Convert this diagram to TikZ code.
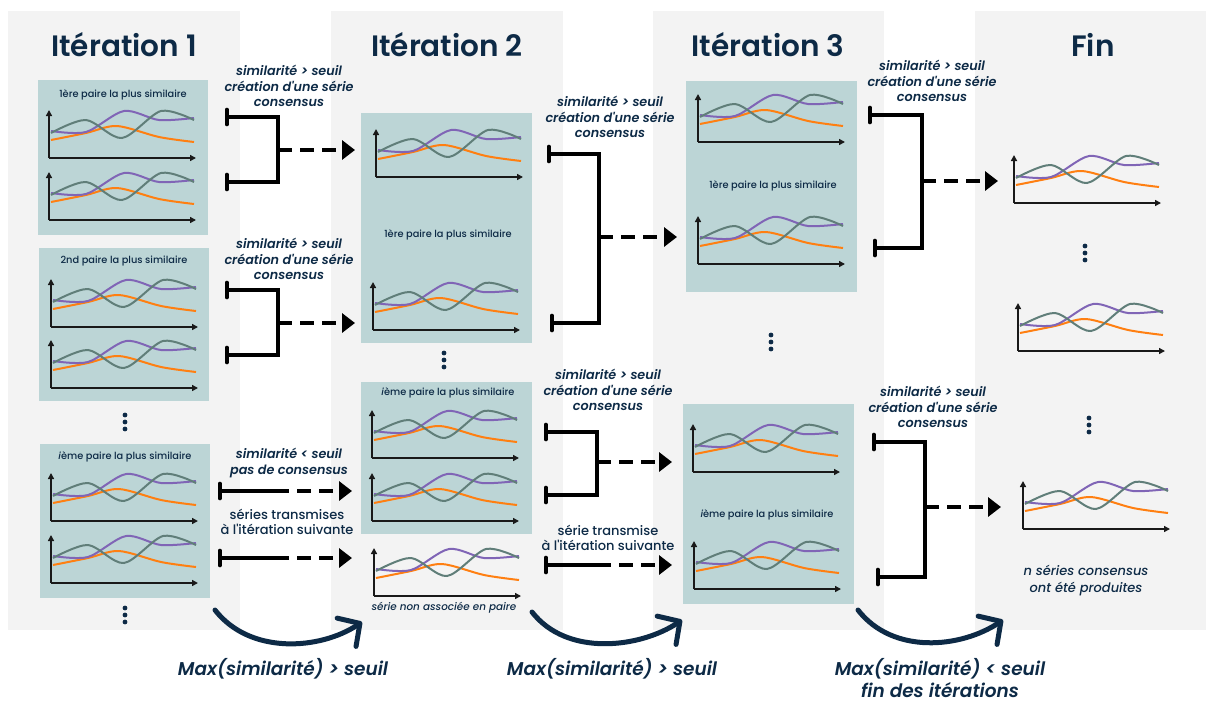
\documentclass[tikz,border=0pt]{standalone}
\usepackage{fontspec}
\setmainfont{Poppins}
\newfontfamily\semifont{Poppins SemiBold}[ItalicFont={Poppins SemiBold Italic}]
\newfontfamily\medfont{Poppins Medium}[ItalicFont={Poppins Medium Italic}]
\usetikzlibrary{arrows.meta}

\definecolor{fond}{RGB}{243,243,243}
\definecolor{panneau}{RGB}{188,213,214}
\definecolor{marine}{RGB}{13,42,70}
\definecolor{courbeA}{RGB}{96,126,121}
\definecolor{courbeB}{RGB}{128,101,182}
\definecolor{courbeC}{RGB}{255,127,17}

\tikzset{
  axe/.style={line width=1.8pt, black!90, -{Triangle[length=6pt,width=6pt]}},
  courbe/.style={line width=2pt},
  serie/.pic={
    \draw[axe] (0,0) -- (0,-48);
    \draw[axe] (0,0) -- (147,0);
    \draw[courbe, courbeC] plot[smooth] coordinates {(2,-18) (37,-25) (68,-32) (110,-21) (145,-16)};
    \draw[courbe, courbeB] plot[smooth] coordinates {(2,-27) (37,-26) (75,-47) (110,-38) (145,-40)};
    \draw[courbe, courbeA] plot[smooth] coordinates {(2,-25) (37,-38) (73,-20) (112,-47) (145,-38)};
  },
  points/.pic={\fill[marine] (0,-7) circle (2.4pt) (0,0) circle (2.4pt) (0,7) circle (2.4pt);},
  titre/.style={text=marine, font=\semifont\fontsize{29.5}{32}\selectfont},
  etiq/.style={text=marine, font=\medfont\fontsize{9.8}{11}\selectfont},
  cond/.style={text=marine, align=center, font=\semifont\itshape\fontsize{12.8}{15.5}\selectfont},
  trans/.style={text=marine, align=center, font=\medfont\fontsize{13}{15.5}\selectfont},
  maxi/.style={text=marine, align=center, inner sep=1pt, font=\semifont\itshape\fontsize{18.5}{22}\selectfont},
  crochet/.style={line width=3.6pt, {Bar[width=15pt,round]}-{Bar[width=15pt,round]}},
  trait/.style={line width=3.6pt, {Bar[width=15pt,round]}-},
  flux/.style={line width=3.6pt, dash pattern=on 14pt off 8pt, -{Triangle[length=13pt,width=19pt]}},
  boucle/.style={line width=5pt, marine, line cap=round, -{Straight Barb[length=16pt,width=34pt,round]}},
}

\begin{document}
\begin{tikzpicture}[x=1pt, y=-1pt]
		\useasboundingbox (0,0) rectangle (1206,702);
		
		% Colonnes
		\fill[fond] (8,11) rectangle (240,630);
		\fill[fond] (331,11) rectangle (563,630);
		\fill[fond] (653,11) rectangle (884,630);
		\fill[fond] (975,11) rectangle (1206,630);
		
		% Titres
		\node[titre] (t1) at (124,45) {Itération 1};
		\node[titre] (t2) at (447,45) {Itération 2};
		\node[titre] (t3) at (768,45) {Itération 3};
		\node[titre] (t4) at (1093,45) {Fin};
		
		% Panneaux des paires
		\fill[panneau] (38,80) rectangle (208,235); % 1ère paire
		\fill[panneau] (39,248) rectangle (209,401); % 2nd paire
		\fill[panneau] (40,444) rectangle (210,598); % ième paire
		\fill[panneau] (361,113) rectangle (532,343);
		\fill[panneau] (361,382) rectangle (532,534);
		\fill[panneau] (686,81) rectangle (857,292);
		\fill[panneau] (683,404) rectangle (854,604);
		
		% Séries
		\foreach \x/\y in {49/158, 49/220, 51/327, 51/388, 51/521, 51/583,
		    376/177, 373/330, 372/458, 372/521, 374/596,
		    698/142, 698/264, 693/472, 694/589,
		    1014/203, 1018/351, 1023/529}
		  \pic at (\x,\y) {serie};
		
		% Points de suspension
		\foreach \x/\y in {125/422, 125/615, 444/360, 771/342, 1085/253, 1089/425}
		  \pic at (\x,\y) {points};
		
		% Etiquettes des panneaux
		\node[etiq] (e11) at (123,95) {1ère paire la plus similaire};
		\node[etiq] (e12) at (124,261) {2nd paire la plus similaire};
		\node[etiq] (e13) at (125,457) {{\itshape i}ème paire la plus similaire};
		\node[etiq] (e21) at (448,235) {1ère paire la plus similaire};
		\node[etiq] (e22) at (448,393) {{\itshape i}ème paire la plus similaire};
		\node[etiq, font=\medfont\itshape\fontsize{10.4}{11}\selectfont] (e23) at (444,608) {série non associée en paire};
		\node[cond, font=\medfont\itshape\fontsize{13}{17}\selectfont] (e41) at (1086,581) {n séries consensus\\ont été produites};
		\node[etiq] (e31) at (773,186) {1ère paire la plus similaire};
		\node[etiq] (e32) at (767,515) {{\itshape i}ème paire la plus similaire};
		
		% Conditions
		\node[cond] (c1) at (289,86) {similarité > seuil\\création d'une série\\consensus};
		\node[cond] (c2) at (289,259) {similarité > seuil\\création d'une série\\consensus};
		\node[cond] (c3) at (289,463) {similarité < seuil\\pas de consensus};
		\node[trans] (c4) at (287,522) {séries transmises\\à l'itération suivante};
		\node[cond] (c5) at (610,117) {similarité > seuil\\création d'une série\\consensus};
		\node[cond] (c6) at (608,390) {similarité > seuil\\création d'une série\\consensus};
		\node[trans] (c7) at (608,538) {série transmise\\à l'itération suivante};
		\node[cond] (c8) at (932,81) {similarité > seuil\\création d'une série\\consensus};
		\node[cond] (c9) at (933,407) {similarité > seuil\\création d'une série\\consensus};
		
		% Crochets Itération 1 -> 2
		\coordinate (a1) at (225,117); \coordinate (a2) at (225,182);
		\coordinate (av) at (278,150); \coordinate (ab) at (355,150);
		\draw[crochet] (a1) -| (av) |- (a2);
		\draw[flux] (av) -- (ab);
		\coordinate (b1) at (225,290); \coordinate (b2) at (225,355);
		\coordinate (bv) at (278,323); \coordinate (bb) at (355,323);
		\draw[crochet] (b1) -| (bv) |- (b2);
		\draw[flux] (bv) -- (bb);
		\coordinate (d1) at (218,491); \coordinate (dm) at (275,491); \coordinate (db) at (352,491);
		\draw[trait] (d1) -- (dm);
		\draw[flux] (dm) -- (db);
		\coordinate (f1) at (218,558); \coordinate (fm) at (275,558); \coordinate (fb) at (352,558);
		\draw[trait] (f1) -- (fm);
		\draw[flux] (fm) -- (fb);
		
		% Crochets Itération 2 -> 3
		\coordinate (g1) at (547,154); \coordinate (g2) at (550,323);
		\coordinate (gv) at (599,237); \coordinate (gb) at (677,237);
		\draw[crochet] (g1) -| (gv) |- (g2);
		\draw[flux] (gv) -- (gb);
		\coordinate (h1) at (544,432); \coordinate (h2) at (544,495);
		\coordinate (hv) at (597,462); \coordinate (hb) at (672,462);
		\draw[crochet] (h1) -| (hv) |- (h2);
		\draw[flux] (hv) -- (hb);
		\coordinate (k1) at (544,565); \coordinate (km) at (597,565); \coordinate (kb) at (672,565);
		\draw[trait] (k1) -- (km);
		\draw[flux] (km) -- (kb);
		
		% Crochets Itération 3 -> Fin
		\coordinate (m1) at (868,115); \coordinate (m2) at (873,248);
		\coordinate (mv) at (922,181); \coordinate (mb) at (998,181);
		\draw[crochet] (m1) -| (mv) |- (m2);
		\draw[flux] (mv) -- (mb);
		\coordinate (n1) at (872,442); \coordinate (n2) at (876,577);
		\coordinate (nv) at (925,507); \coordinate (nb) at (1001,507);
		\draw[crochet] (n1) -| (nv) |- (n2);
		\draw[flux] (nv) -- (nb);
		
		% Boucles entre itérations
		\coordinate (p1) at (215,610); \coordinate (q1) at (362,622);
		\coordinate (p2) at (532,612); \coordinate (q2) at (682,620);
		\coordinate (p3) at (858,610); \coordinate (q3) at (1003,620);
		\draw[boucle] (p1) .. controls +(35,45) and +(-42,28) .. (q1);
		\draw[boucle] (p2) .. controls +(35,45) and +(-42,28) .. (q2);
		\draw[boucle] (p3) .. controls +(35,45) and +(-42,28) .. (q3);
		\node[maxi] (x1) at (283,669) {Max(similarité) > seuil};
		\node[maxi] (x2) at (612,669) {Max(similarité) > seuil};
		\node[maxi] (x3) at (940,678) {Max(similarité) < seuil\\fin des itérations};
	\end{tikzpicture}
\end{document}
